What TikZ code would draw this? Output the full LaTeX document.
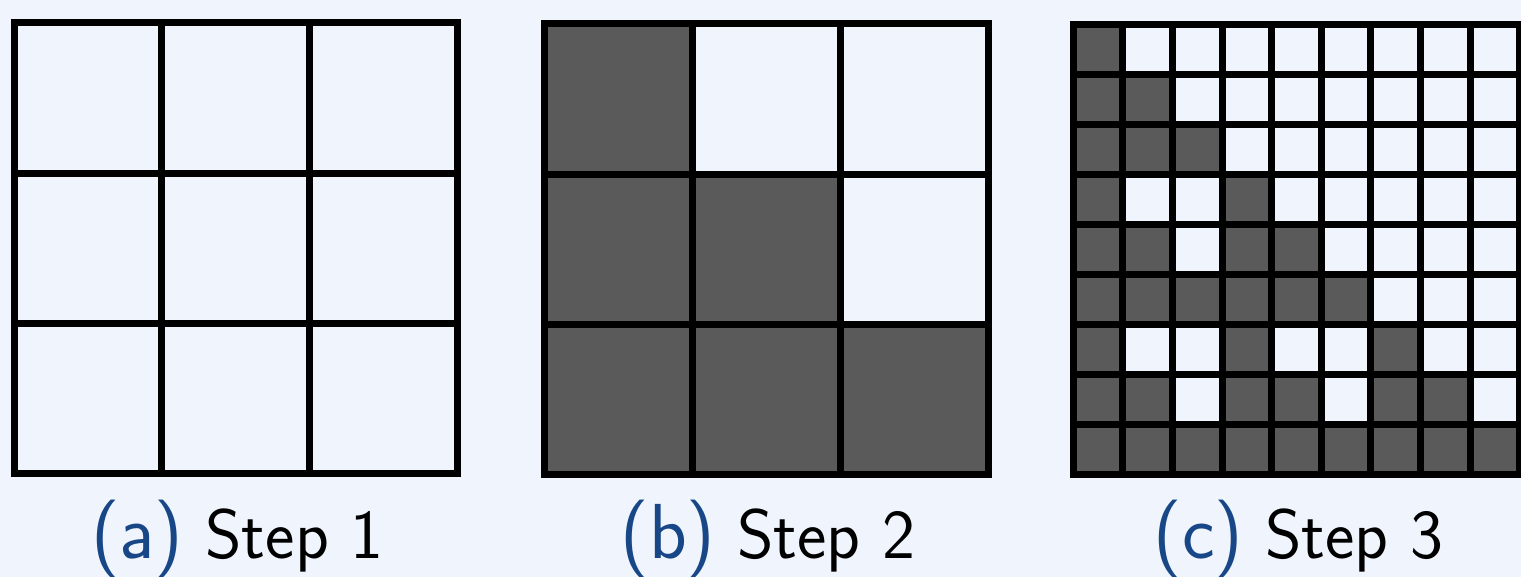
\documentclass[tikz,border=0pt]{standalone}
\usepackage{fontspec}
\definecolor{bgblue}{RGB}{240,244,252}
\definecolor{cellgray}{RGB}{90,90,90}
\definecolor{capblue}{RGB}{24,71,135}
\tikzset{
  gridline/.style={line width=7pt},
  darkcell/.style={fill=cellgray},
  subcap/.style={font=\sffamily\fontsize{70}{76}\selectfont, anchor=base, inner sep=0pt},
}
\newcommand{\capletter}[1]{{\color{capblue}\fontsize{78}{84}\selectfont(#1)}}
\begin{document}
\begin{tikzpicture}[x=1pt, y=-1pt]
  % Background
  \fill[bgblue] (0,0) rectangle (1521,577);
  \useasboundingbox (0,0) rectangle (1521,577);

  % Step 1: empty 3x3 grid
  \begin{scope}[shift={(14,23)}, xscale=147.8, yscale=150.3]
    \foreach \i in {1,2} {
      \draw[gridline] (\i,0) -- (\i,3);
      \draw[gridline] (0,\i) -- (3,\i);
    }
    \draw[gridline] (0,0) rectangle (3,3);
  \end{scope}

  % Step 2: 3x3 grid, lower triangle filled
  \begin{scope}[shift={(544,23.7)}, xscale=148.3, yscale=150.4]
    \foreach \c/\r in {0/0, 0/1, 1/1, 0/2, 1/2, 2/2}
      \fill[darkcell] (\c,\r) rectangle ++(1,1);
    \foreach \i in {1,2} {
      \draw[gridline] (\i,0) -- (\i,3);
      \draw[gridline] (0,\i) -- (3,\i);
    }
    \draw[gridline] (0,0) rectangle (3,3);
  \end{scope}

  % Step 3: 9x9 grid
  \begin{scope}[shift={(1073.3,24.7)}, xscale=49.6, yscale=50.03]
    \foreach \c/\r in {0/0,
                       0/1, 1/1,
                       0/2, 1/2, 2/2,
                       0/3, 3/3,
                       0/4, 1/4, 3/4, 4/4,
                       0/5, 1/5, 2/5, 3/5, 4/5, 5/5,
                       0/6, 3/6, 6/6,
                       0/7, 1/7, 3/7, 4/7, 6/7, 7/7,
                       0/8, 1/8, 2/8, 3/8, 4/8, 5/8, 6/8, 7/8, 8/8}
      \fill[darkcell] (\c,\r) rectangle ++(1,1);
    \foreach \i in {1,...,8} {
      \draw[gridline] (\i,0) -- (\i,9);
      \draw[gridline] (0,\i) -- (9,\i);
    }
    \draw[gridline] (0,0) rectangle (9,9);
  \end{scope}

  % Captions
  \node[subcap] (capa) at (237.5,558) {\capletter{a} Step 1};
  \node[subcap] (capb) at (768,558) {\capletter{b} Step 2};
  \node[subcap] (capc) at (1298.5,558) {\capletter{c} Step 3};
\end{tikzpicture}
\end{document}
